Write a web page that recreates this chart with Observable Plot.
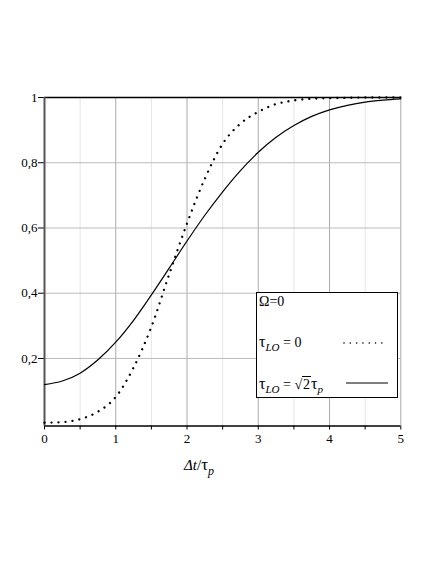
<!DOCTYPE html>
<html>
<head>
<meta charset="utf-8">
<script src="https://cdn.jsdelivr.net/npm/d3@7"></script>
<script src="https://cdn.jsdelivr.net/npm/@observablehq/plot@0.6"></script>
<style>
  body { margin: 0; background: #fff; }
  #wrap { position: relative; width: 436px; height: 564px; font-family: "Times New Roman", "Liberation Serif", "DejaVu Serif", serif; }
  #wrap svg text { font-family: "Times New Roman", "Liberation Serif", "DejaVu Serif", serif; }
  #legend { position: absolute; left: 256px; top: 292px; width: 140px; height: 104px; border: 1px solid #000; background: #fff; font-size: 14px; color: #000; }
  #legend div.row { position: absolute; left: 2px; white-space: nowrap; }
  #legend sub { font-size: 11px; font-style: italic; vertical-align: -4px; line-height: 0; }
  #legend svg { position: absolute; }
  #xlabel { position: absolute; left: 184px; top: 455px; font-size: 15px; white-space: nowrap; }
  #xlabel sub { font-size: 12px; font-style: italic; vertical-align: -5px; line-height: 0; }
  .ov { border-top: 1px solid #000; padding-left: 1px; padding-right: 1px; }
</style>
</head>
<body>
<div id="wrap"></div>
<script>
const xs = [0, 0.25, 0.5, 0.75, 1, 1.25, 1.5, 1.75, 2, 2.25, 2.5, 2.75, 3, 3.25, 3.5, 3.75, 4, 4.25, 4.5, 4.75, 5];
const dotted = [0.003, 0.005, 0.014, 0.037, 0.082, 0.172, 0.297, 0.458, 0.614, 0.751, 0.858, 0.920, 0.956, 0.980, 0.991, 0.996, 0.998, 0.999, 1, 1, 1];
const solid = [0.12, 0.131, 0.155, 0.196, 0.250, 0.317, 0.395, 0.477, 0.560, 0.639, 0.711, 0.776, 0.832, 0.878, 0.914, 0.942, 0.962, 0.976, 0.986, 0.992, 0.996];
const xTicks = [0, 0.5, 1, 1.5, 2, 2.5, 3, 3.5, 4, 4.5, 5];
const xMajor = [1, 2, 3, 4, 5];
const xMinor = [0.5, 1.5, 2.5, 3.5, 4.5];
const yTicks = [0.2, 0.4, 0.6, 0.8, 1];
const yGrid = [0.2, 0.4, 0.6, 0.8];

const dottedData = xs.map((x, i) => ({x, y: dotted[i]}));
const solidData = xs.map((x, i) => ({x, y: solid[i]}));
const yMin = -0.007;
const ff = "'Times New Roman', 'Liberation Serif', 'DejaVu Serif', serif";

const chart = Plot.plot({
  width: 436,
  height: 564,
  marginTop: 97,
  marginBottom: 138.5,
  marginLeft: 44,
  marginRight: 35.7,
  style: {fontFamily: ff, fontSize: "13px", color: "#000", background: "#fff"},
  x: {domain: [0, 5]},
  y: {domain: [yMin, 1]},
  marks: [
    Plot.gridX(xMinor, {stroke: "#e6e6e6", strokeOpacity: 1, strokeWidth: 1}),
    Plot.gridX(xMajor, {stroke: "#aaaaaa", strokeOpacity: 1, strokeWidth: 1}),
    Plot.gridY(yGrid, {stroke: "#bbbbbb", strokeOpacity: 1, strokeWidth: 1}),
    Plot.axisX({ticks: xTicks, tickSize: 4, tickPadding: 4, tickFormat: d => Number.isInteger(d) ? String(d) : "", label: null, fontSize: 13, stroke: "#000"}),
    Plot.axisY({ticks: yTicks, tickSize: 6, tickPadding: 1, tickFormat: d => String(d).replace(".", ","), label: null, fontSize: 13, stroke: "#000"}),
    Plot.ruleY([yMin], {stroke: "#000", strokeWidth: 1.3}),
    Plot.ruleY([1], {stroke: "#000", strokeWidth: 1.5}),
    Plot.ruleX([0], {stroke: "#555", strokeWidth: 2}),
    Plot.line(solidData, {x: "x", y: "y", stroke: "#000", strokeWidth: 1.2, curve: "monotone-x"}),
    Plot.line(dottedData, {x: "x", y: "y", stroke: "#000", strokeWidth: 2.3, strokeDasharray: "0.01 7", strokeLinecap: "round", curve: "monotone-x"})
  ]
});

const wrap = document.getElementById("wrap");
wrap.appendChild(chart);

const legend = document.createElement("div");
legend.id = "legend";
legend.innerHTML = `
  <div class="row" style="top:1px">Ω=0</div>
  <div class="row" style="top:40px"><span style="font-size:16px">τ</span><sub>LO</sub> = 0</div>
  <svg style="left:86px;top:48px" width="40" height="4"><line x1="1" y1="2" x2="39" y2="2" stroke="#000" stroke-width="1.6" stroke-dasharray="0.01 6.3" stroke-linecap="round"/></svg>
  <div class="row" style="top:82px"><span style="font-size:16px">τ</span><sub>LO</sub> = √<span class="ov">2</span><span style="font-size:16px">τ</span><sub>p</sub></div>
  <svg style="left:89px;top:88px" width="42" height="4"><line x1="0" y1="2" x2="42" y2="2" stroke="#000" stroke-width="1.2"/></svg>
`;
wrap.appendChild(legend);

const xl = document.createElement("div");
xl.id = "xlabel";
xl.innerHTML = `<i>Δt</i>/<span style="font-size:17px">τ</span><sub>p</sub>`;
wrap.appendChild(xl);
</script>
</body>
</html>
